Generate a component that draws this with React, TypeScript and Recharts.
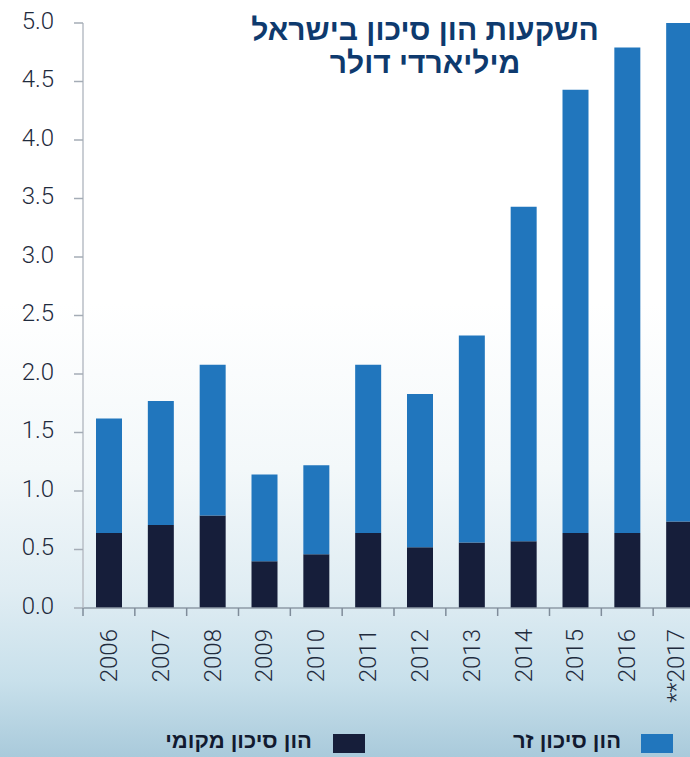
import { BarChart, Bar, XAxis, YAxis, Legend } from 'recharts'

const YEARS = ['2006', '2007', '2008', '2009', '2010', '2011', '2012', '2013', '2014', '2015', '2016', '**2017']
const LOCAL = [0.64, 0.71, 0.79, 0.4, 0.46, 0.64, 0.52, 0.56, 0.57, 0.64, 0.64, 0.74]
const FOREIGN = [0.98, 1.06, 1.29, 0.74, 0.76, 1.44, 1.31, 1.77, 2.86, 3.79, 4.15, 4.26]
const Y_TICKS = [0, 0.5, 1, 1.5, 2, 2.5, 3, 3.5, 4, 4.5, 5]

const TITLE = ['השקעות הון סיכון בישראל', 'מיליארדי דולר']
const LOCAL_NAME = 'הון סיכון מקומי'
const FOREIGN_NAME = 'הון סיכון זר'

const data = YEARS.map((year, i) => ({ year, local: LOCAL[i], foreign: FOREIGN[i] }))

const CHART_W = 720
const LEFT = 83
const RIGHT = 15
const BAND = (CHART_W - LEFT - RIGHT) / YEARS.length

const BLUE = '#2176bd'
const NAVY = '#161e3a'
const FONT = 'Roboto, "Liberation Sans", sans-serif'
const HEB = '"Liberation Sans", "DejaVu Sans", sans-serif'

function YearTick(props: any) {
  const { x, y, payload } = props
  // the last band runs past the page edge, keep its label on screen
  const tx = Math.min(x, 676)
  return (
    <g>
      <line x1={x - BAND / 2} x2={x - BAND / 2} y1={y} y2={y + 8} stroke="#7f8c9a" strokeWidth={1.5} />
      <text
        x={tx}
        y={y + 21}
        transform={`rotate(-90, ${tx}, ${y + 21})`}
        textAnchor="end"
        dominantBaseline="central"
        fontSize={24}
        fontFamily={FONT}
        fontWeight={300}
        fill="#1f2b3d"
      >
        {payload.value}
      </text>
    </g>
  )
}

function LegendBox() {
  const item = (color: string, label: string, boxLeft: number, textRight: number) => (
    <>
      <div style={{ position: 'absolute', left: boxLeft, top: 8, width: 32, height: 19, background: color }} />
      <div
        style={{
          position: 'absolute',
          right: 690 - textRight,
          top: 2,
          direction: 'rtl',
          fontFamily: HEB,
          fontWeight: 700,
          fontSize: 22,
          color: '#111a30',
          whiteSpace: 'nowrap',
        }}
      >
        {label}
      </div>
    </>
  )
  return (
    <div style={{ position: 'relative', width: 690, height: 32 }}>
      {item(BLUE, FOREIGN_NAME, 641, 621)}
      {item(NAVY, LOCAL_NAME, 333, 312)}
    </div>
  )
}

export default function App() {
  return (
    <div
      style={{
        position: 'fixed',
        left: 0,
        top: 0,
        width: 690,
        height: 757,
        overflow: 'hidden',
        background:
          'linear-gradient(to bottom, #ffffff 0%, #ffffff 40%, #f3f8fa 62%, #e0edf3 78%, #c8e0eb 90%, #a9cadb 100%)',
      }}
    >
      <div
        style={{
          position: 'absolute',
          left: 225,
          width: 400,
          top: 13,
          textAlign: 'center',
          direction: 'rtl',
          fontFamily: HEB,
          fontWeight: 700,
          fontSize: 30,
          lineHeight: '33px',
          color: '#0e3a6e',
          zIndex: 2,
        }}
      >
        <div>{TITLE[0]}</div>
        <div>{TITLE[1]}</div>
      </div>
      <BarChart
        width={CHART_W}
        height={757}
        data={data}
        margin={{ top: 23, right: RIGHT, left: 0, bottom: 148 }}
      >
        <XAxis
          dataKey="year"
          interval={0}
          tickSize={0}
          tickMargin={0}
          tickLine={false}
          axisLine={{ stroke: '#8e9aa6', strokeWidth: 1.5 }}
          tick={<YearTick />}
          height={1}
        />
        <YAxis
          domain={[0, 5]}
          ticks={Y_TICKS}
          width={LEFT}
          tickSize={9}
          tickMargin={20}
          tickFormatter={(v: number) => v.toFixed(1)}
          tick={{ fontSize: 24, fontFamily: FONT, fontWeight: 300, fill: '#1f2b3d', dy: -3 }}
          axisLine={{ stroke: '#b8bec6', strokeWidth: 1.5 }}
          tickLine={{ stroke: '#a4acb6', strokeWidth: 1.5 }}
        />
        <Legend
          layout="horizontal"
          verticalAlign="middle"
          align="center"
          wrapperStyle={{ top: 726, left: 0, width: 690, height: 32 }}
          content={() => <LegendBox />}
        />
        <Bar dataKey="local" name={LOCAL_NAME} stackId="a" fill={NAVY} barSize={26} isAnimationActive={false} />
        <Bar dataKey="foreign" name={FOREIGN_NAME} stackId="a" fill={BLUE} barSize={26} isAnimationActive={false} />
      </BarChart>
    </div>
  )
}
